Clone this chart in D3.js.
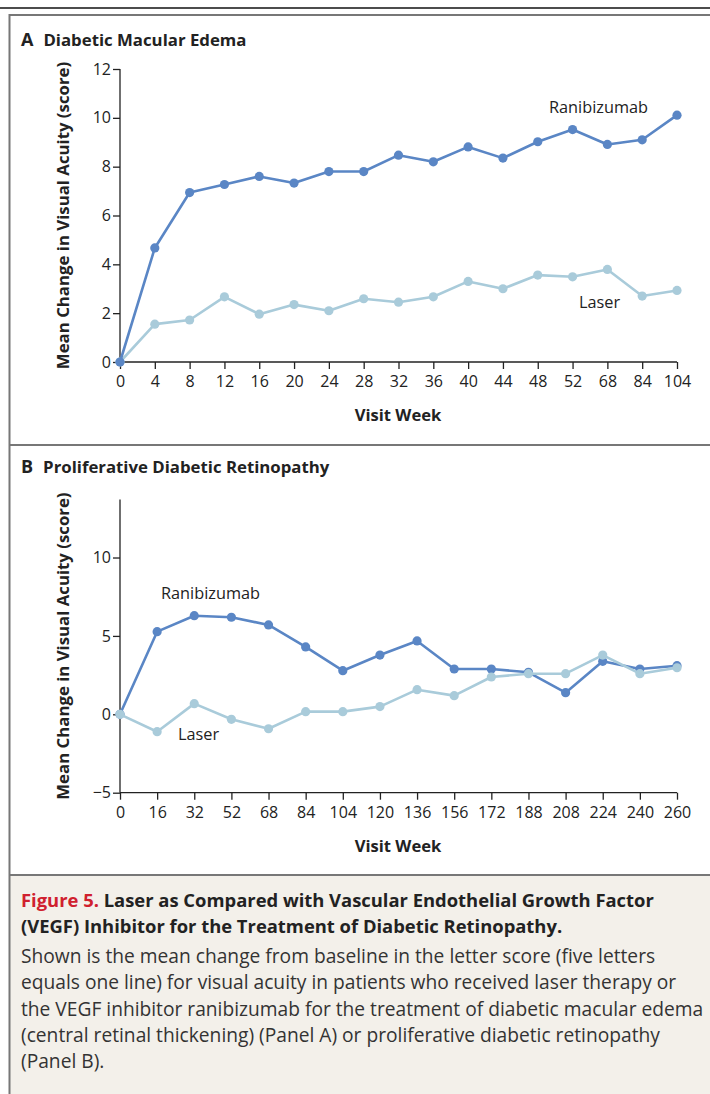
<!DOCTYPE html>
<html>
<head>
<meta charset="utf-8">
<script src="https://cdn.jsdelivr.net/npm/d3@7"></script>
<style>
    body { margin: 0; background: #fff; }
    svg { display: block; font-family: 'Open Sans', sans-serif; }
</style>
</head>
<body>
<div class="chart-container"></div>
<script>
// panel A data
const weeksA = [0, 4, 8, 12, 16, 20, 24, 28, 32, 36, 40, 44, 48, 52, 68, 84, 104];
const ranibizumabA = [0, 4.67, 6.94, 7.27, 7.6, 7.33, 7.8, 7.8, 8.47, 8.2, 8.81, 8.35, 9.02, 9.52, 8.91, 9.1, 10.11];
const laserA = [0, 1.55, 1.72, 2.67, 1.96, 2.35, 2.1, 2.59, 2.45, 2.67, 3.3, 3.0, 3.56, 3.49, 3.79, 2.7, 2.93];
const yTicksA = [0, 2, 4, 6, 8, 10, 12];

// panel B data
const weeksB = [0, 16, 32, 52, 68, 84, 104, 120, 136, 156, 172, 188, 208, 224, 240, 260];
const ranibizumabB = [0, 5.27, 6.29, 6.19, 5.7, 4.3, 2.78, 3.78, 4.68, 2.89, 2.89, 2.68, 1.38, 3.38, 2.89, 3.1];
const laserB = [0, -1.11, 0.68, -0.32, -0.92, 0.17, 0.17, 0.49, 1.57, 1.19, 2.38, 2.59, 2.59, 3.78, 2.59, 2.97];
const yTicksB = [-5, 0, 5, 10];

const darkBlue = '#5a86c5';
const lightBlue = '#a9cbda';
const font = "'Open Sans', sans-serif";

const W = 710, H = 1094;

const svg = d3.select('.chart-container')
    .append('svg')
    .attr('width', W)
    .attr('height', H);

// frame
svg.append('rect').attr('x', 0).attr('y', 0).attr('width', W).attr('height', H).attr('fill', '#fff');
svg.append('rect') // caption background
    .attr('x', 10).attr('y', 876).attr('width', W - 10).attr('height', H - 876)
    .attr('fill', '#f3f0ea');
svg.append('line').attr('x1', 0).attr('x2', W).attr('y1', 8).attr('y2', 8)
    .attr('stroke', '#111').attr('stroke-width', 1.6);
[15, 445, 875].forEach(y => {
    svg.append('line').attr('x1', 9).attr('x2', W).attr('y1', y).attr('y2', y)
        .attr('stroke', '#777').attr('stroke-width', 2);
});
svg.append('line').attr('x1', 9.5).attr('x2', 9.5).attr('y1', 14).attr('y2', H)
    .attr('stroke', '#777').attr('stroke-width', 2);

function styleAxis(axisDraw) {
    axisDraw.attr('font-family', font).attr('font-size', 16);
    axisDraw.selectAll('line').attr('stroke', '#222').attr('stroke-width', 1.3);
    axisDraw.select('.domain').attr('stroke', '#222').attr('stroke-width', 1.3);
    axisDraw.selectAll('text').attr('fill', '#222');
}

function drawPanel(opts) {
    const g = svg.append('g');

    // panel title
    const title = g.append('text')
        .attr('x', 21).attr('y', opts.titleY)
        .style('font-size', '18px').style('font-weight', 'bold').attr('fill', '#222');
    title.append('tspan').text(opts.letter);
    title.append('tspan').attr('dx', 10).style('font-size', '16.8px').text(opts.title);

    const xScale = d3.scalePoint()
        .domain(opts.weeks)
        .range([120, 677]);

    const yScale = d3.scaleLinear()
        .domain(opts.yDomain)
        .range(opts.yRange);

    // axes
    const xAxis = d3.axisBottom(xScale).tickSizeOuter(0).tickSizeInner(7).tickPadding(7);
    const xAxisDraw = g.append('g')
        .attr('class', 'x axis')
        .attr('transform', `translate(0, ${opts.yRange[0]})`)
        .call(xAxis);
    xAxisDraw.select('.domain').attr('d', `M120,0H677`);
    styleAxis(xAxisDraw);

    const yAxis = d3.axisLeft(yScale)
        .tickValues(opts.yTicks)
        .tickFormat(d => d < 0 ? '\u2212' + Math.abs(d) : d)
        .tickSizeOuter(0).tickSizeInner(7).tickPadding(2);
    const yAxisDraw = g.append('g')
        .attr('class', 'y axis')
        .attr('transform', 'translate(120, 0)')
        .call(yAxis);
    yAxisDraw.select('.domain').attr('d', `M0,${opts.yRange[0]}V${opts.yRange[1]}`);
    styleAxis(yAxisDraw);

    // axis titles
    g.append('text')
        .attr('x', 398).attr('y', opts.yRange[0] + 59)
        .attr('text-anchor', 'middle')
        .style('font-size', '16.6px').style('font-weight', 'bold').attr('fill', '#222')
        .text('Visit Week');

    const yMid = (opts.yRange[0] + opts.yRange[1]) / 2;
    g.append('text')
        .attr('transform', `translate(69, ${yMid}) rotate(-90)`)
        .attr('text-anchor', 'middle')
        .style('font-size', '16.8px').style('font-weight', 'bold').attr('fill', '#222')
        .text('Mean Change in Visual Acuity (score)');

    const lineGen = d3.line()
        .x(d => xScale(d.week))
        .y(d => yScale(d.value));

    const series = opts.series.map(s => ({
        name: s.name,
        color: s.color,
        values: opts.weeks.map((w, i) => ({ week: w, value: s.values[i] })),
        label: s.label
    }));

    series.forEach(s => {
        const sg = g.append('g').attr('class', 'series');
        sg.append('path')
            .attr('d', lineGen(s.values))
            .attr('fill', 'none')
            .attr('stroke', s.color)
            .attr('stroke-width', 2.6)
            .attr('stroke-linejoin', 'round');
        sg.selectAll('circle')
            .data(s.values)
            .enter()
            .append('circle')
            .attr('cx', d => xScale(d.week))
            .attr('cy', d => yScale(d.value))
            .attr('r', 4.6)
            .attr('fill', s.color);
    });

    // series labels
    series.forEach(s => {
        g.append('text')
            .attr('x', s.label[0]).attr('y', s.label[1])
            .attr('dominant-baseline', 'central')
            .style('font-size', '16.3px').attr('fill', '#222')
            .text(s.name);
    });
}

drawPanel({
    letter: 'A', title: 'Diabetic Macular Edema', titleY: 46,
    weeks: weeksA, yDomain: [0, 12], yRange: [362, 69], yTicks: yTicksA,
    series: [
        { name: 'Laser', color: lightBlue, values: laserA, label: [579, 302] },
        { name: 'Ranibizumab', color: darkBlue, values: ranibizumabA, label: [549, 107] }
    ]
});

drawPanel({
    letter: 'B', title: 'Proliferative Diabetic Retinopathy', titleY: 473,
    weeks: weeksB, yDomain: [-5, 13.7], yRange: [792.7, 499.5], yTicks: yTicksB,
    series: [
        { name: 'Ranibizumab', color: darkBlue, values: ranibizumabB, label: [161, 593] },
        { name: 'Laser', color: lightBlue, values: laserB, label: [178, 734] }
    ]
});

// caption
const cap = svg.append('g').attr('transform', 'translate(21, 0)');
const capTitle = cap.append('text').attr('y', 907)
    .style('font-size', '18.4px').style('font-weight', 'bold').attr('fill', '#222');
capTitle.append('tspan').attr('fill', '#d0202e').text('Figure 5.');
capTitle.append('tspan').text(' Laser as Compared with Vascular Endothelial Growth Factor');
cap.append('text').attr('y', 933)
    .style('font-size', '18.4px').style('font-weight', 'bold').attr('fill', '#222')
    .text('(VEGF) Inhibitor for the Treatment of Diabetic Retinopathy.');

const captionLines = [
    'Shown is the mean change from baseline in the letter score (five letters',
    'equals one line) for visual acuity in patients who received laser therapy or',
    'the VEGF inhibitor ranibizumab for the treatment of diabetic macular edema',
    '(central retinal thickening) (Panel A) or proliferative diabetic retinopathy',
    '(Panel B).'
];
cap.selectAll('.cap-line')
    .data(captionLines)
    .enter()
    .append('text')
    .attr('class', 'cap-line')
    .attr('y', (d, i) => 963 + i * 26.3)
    .style('font-size', '19.2px')
    .attr('fill', '#333')
    .text(d => d);
</script>
</body>
</html>
